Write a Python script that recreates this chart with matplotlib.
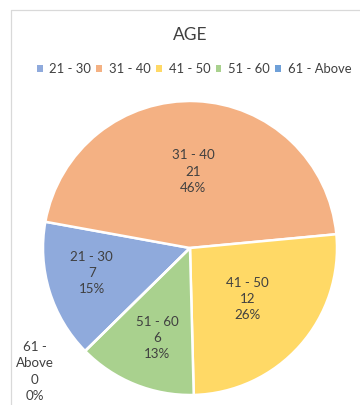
import numpy as np
import matplotlib
matplotlib.use("Agg")
import matplotlib.pyplot as plt
from matplotlib.patches import Patch

plt.rcParams['font.family'] = ['Lato', 'DejaVu Sans']

# data
categories = ["21 - 30", "31 - 40", "41 - 50", "51 - 60", "61 - Above"]
counts = [7, 21, 12, 6, 0]
colors = ["#8FAADC", "#F4B183", "#FFD966", "#A9D18E", "#6FA0D8"]
title = "AGE"

W, H = 360, 405


def main():
    fig = plt.figure(figsize=(W / 100, H / 100), dpi=100)
    ax = fig.add_axes([0, 0, 1, 1])
    ax.set_xlim(0, W)
    ax.set_ylim(0, H)
    ax.set_aspect("equal")
    ax.axis("off")

    # chart area border (cut off on right and bottom)
    ax.plot([11, 11, W + 5], [-5, H - 10, H - 10], color="#D9D9D9", lw=0.9)

    cx, cy, r = 190, H - 248, 147
    wedges, _ = ax.pie(counts, colors=colors, startangle=224.5, counterclock=False,
                       center=(cx, cy), radius=r,
                       wedgeprops=dict(edgecolor="white", linewidth=1.8))
    ax.set_xlim(0, W)
    ax.set_ylim(0, H)

    total = sum(counts)
    # label radius (fraction of radius) and angle offset per slice
    label_r = [0.69, 0.52, 0.52, 0.65, 1.35]
    label_da = [-3, 0, 0, 2, -6]
    for w, cat, n, lr, da in zip(wedges, categories, counts, label_r, label_da):
        if n == 0:
            ang = w.theta1 + da
        else:
            ang = (w.theta1 + w.theta2) / 2 + da
        a = np.deg2rad(ang)
        tx = cx + lr * r * np.cos(a)
        ty = cy + lr * r * np.sin(a)
        name = cat.replace(" - Above", " -\nAbove")
        pct = 100 * n / total
        ax.text(tx, ty, f"{name}\n{n}\n{pct:.0f}%", ha="center", va="center",
                fontsize=9.6, color="#404040", linespacing=1.42)

    ax.text(190, H - 35, title, ha="center", va="center", fontsize=12.5, color="#404040")

    handles = [Patch(facecolor=c, edgecolor="none") for c in colors]
    fig.legend(handles, categories, loc="center", bbox_to_anchor=(194 / W, 1 - 69 / H),
               ncol=5, frameon=False, fontsize=9.4, handlelength=0.45, handleheight=0.45,
               handletextpad=0.5, columnspacing=0.42, labelcolor="#404040",
               borderpad=0, borderaxespad=0)

    fig.savefig("out.png", dpi=100)


if __name__ == "__main__":
    main()
